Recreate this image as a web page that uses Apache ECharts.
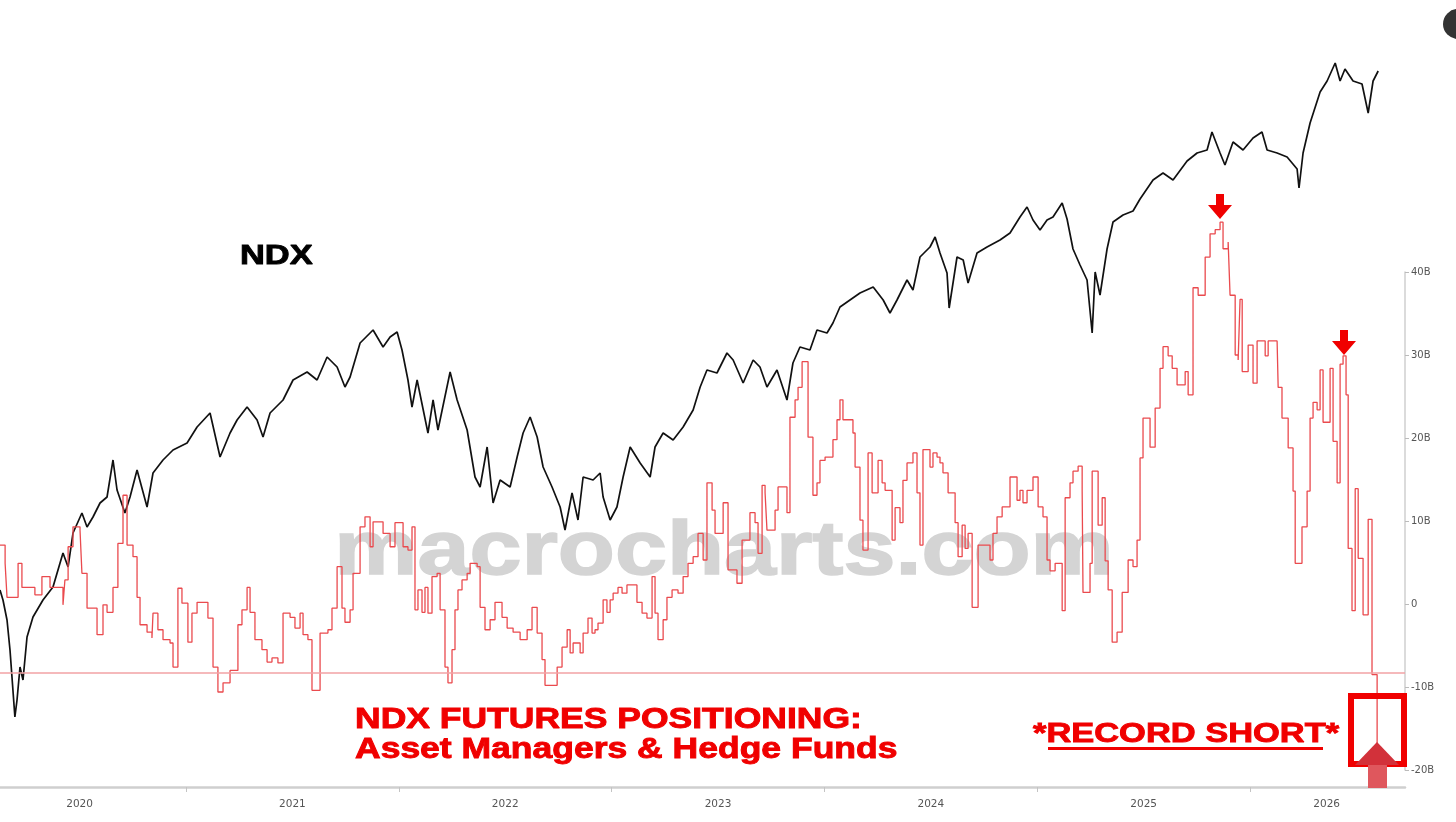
<!DOCTYPE html>
<html><head><meta charset="utf-8">
<script src="https://cdn.jsdelivr.net/npm/echarts@6/dist/echarts.min.js"></script>
<style>html,body{margin:0;padding:0;background:#fff}#c{width:1456px;height:822px}</style>
</head><body><div id="c"></div>
<script>
// ---- axis ticks / labels ----
const yearTicks = [2021, 2022, 2023, 2024, 2025, 2026];
const yearLabelPos = [2020.5, 2021.5, 2022.5, 2023.5, 2024.5, 2025.5, 2026.36];
const posTicks = [-20, -10, 0, 10, 20, 30, 40];
const recordShortLevel = -8.3;

// ---- NDX (black line, hidden left axis) ----
const ndxDates = [2020.126,2020.140,2020.159,2020.173,2020.196,2020.206,2020.220,2020.234,2020.253,2020.281,2020.328,2020.375,2020.422,2020.446,2020.469,2020.511,2020.535,2020.563,2020.596,2020.629,2020.657,2020.676,2020.713,2020.737,2020.770,2020.817,2020.845,2020.892,2020.939,2021.005,2021.052,2021.113,2021.160,2021.207,2021.240,2021.287,2021.334,2021.362,2021.395,2021.456,2021.503,2021.569,2021.616,2021.663,2021.710,2021.747,2021.771,2021.818,2021.879,2021.926,2021.959,2021.992,2022.015,2022.043,2022.062,2022.086,2022.137,2022.161,2022.184,2022.241,2022.274,2022.321,2022.358,2022.382,2022.415,2022.443,2022.476,2022.523,2022.556,2022.584,2022.617,2022.650,2022.678,2022.720,2022.758,2022.781,2022.814,2022.842,2022.866,2022.913,2022.946,2022.960,2022.993,2023.025,2023.054,2023.087,2023.134,2023.181,2023.204,2023.242,2023.289,2023.336,2023.383,2023.416,2023.448,2023.495,2023.542,2023.571,2023.618,2023.665,2023.697,2023.730,2023.777,2023.824,2023.852,2023.885,2023.932,2023.965,2024.012,2024.040,2024.073,2024.120,2024.167,2024.229,2024.276,2024.308,2024.341,2024.388,2024.416,2024.449,2024.496,2024.520,2024.543,2024.576,2024.586,2024.623,2024.652,2024.675,2024.717,2024.764,2024.825,2024.872,2024.919,2024.952,2024.980,2025.013,2025.046,2025.074,2025.117,2025.140,2025.168,2025.201,2025.234,2025.258,2025.272,2025.295,2025.328,2025.356,2025.403,2025.450,2025.483,2025.544,2025.591,2025.638,2025.704,2025.751,2025.798,2025.821,2025.859,2025.882,2025.920,2025.967,2026.014,2026.056,2026.080,2026.127,2026.174,2026.221,2026.230,2026.249,2026.282,2026.329,2026.362,2026.400,2026.423,2026.446,2026.484,2026.526,2026.555,2026.578,2026.602];
const ndxValues = [10712,10422,9842,8972,7029,7522,8479,8102,9349,9929,10422,10799,11785,11379,12365,12945,12539,12829,13235,13409,14482,13612,12945,13409,14192,13119,14105,14482,14772,14975,15439,15845,14569,15265,15642,16019,15642,15149,15845,16222,16802,17034,16802,17469,17179,16599,16889,17875,18252,17759,18049,18194,17672,16802,16019,16802,15265,16222,15352,17034,16222,15352,13989,13699,14859,13235,13902,13699,14569,15265,15729,15149,14279,13699,13119,12452,13525,12742,13989,13902,14105,13409,12742,13119,13989,14859,14395,13989,14859,15265,15062,15439,15932,16599,17092,17005,17585,17382,16715,17382,17179,16599,17092,16222,17295,17759,17672,18252,18165,18455,18919,19122,19325,19499,19122,18745,19122,19702,19412,20369,20659,20949,20485,19905,18890,20369,20282,19615,20485,20659,20862,21065,21529,21819,21442,21152,21442,21529,21935,21471,20601,20137,19702,18165,19934,19267,20601,21384,21587,21703,22051,22602,22805,22602,23153,23385,23472,23994,23385,23037,23704,23472,23820,23994,23472,23385,23269,22921,22370,23385,24255,25154,25473,25995,25473,25821,25473,25386,24545,25473,25763];

// ---- Futures positioning, $B (red step line, right axis) ----
const posDates = [2020.126,2020.150,2020.159,2020.211,2020.229,2020.290,2020.323,2020.361,2020.422,2020.431,2020.446,2020.469,2020.502,2020.511,2020.535,2020.582,2020.610,2020.629,2020.657,2020.680,2020.704,2020.723,2020.751,2020.770,2020.784,2020.817,2020.840,2020.845,2020.868,2020.892,2020.925,2020.939,2020.962,2020.981,2021.009,2021.028,2021.052,2021.103,2021.127,2021.150,2021.174,2021.207,2021.244,2021.263,2021.287,2021.301,2021.324,2021.357,2021.381,2021.404,2021.432,2021.456,2021.489,2021.512,2021.536,2021.550,2021.573,2021.592,2021.630,2021.667,2021.686,2021.710,2021.733,2021.747,2021.771,2021.785,2021.818,2021.841,2021.865,2021.879,2021.926,2021.959,2021.982,2022.020,2022.043,2022.062,2022.076,2022.090,2022.109,2022.123,2022.137,2022.156,2022.180,2022.194,2022.217,2022.231,2022.250,2022.264,2022.278,2022.297,2022.321,2022.335,2022.368,2022.382,2022.405,2022.429,2022.452,2022.485,2022.509,2022.537,2022.570,2022.603,2022.626,2022.650,2022.673,2022.687,2022.744,2022.767,2022.791,2022.805,2022.819,2022.852,2022.866,2022.889,2022.908,2022.922,2022.936,2022.960,2022.978,2022.993,2023.007,2023.030,2023.049,2023.072,2023.119,2023.143,2023.166,2023.190,2023.204,2023.218,2023.242,2023.260,2023.284,2023.312,2023.336,2023.359,2023.383,2023.406,2023.430,2023.448,2023.472,2023.486,2023.524,2023.547,2023.589,2023.613,2023.650,2023.674,2023.688,2023.707,2023.721,2023.730,2023.768,2023.782,2023.824,2023.838,2023.862,2023.876,2023.895,2023.923,2023.946,2023.965,2023.979,2024.003,2024.040,2024.059,2024.073,2024.087,2024.134,2024.144,2024.167,2024.181,2024.205,2024.224,2024.252,2024.271,2024.285,2024.318,2024.332,2024.355,2024.369,2024.388,2024.416,2024.435,2024.449,2024.463,2024.496,2024.510,2024.529,2024.543,2024.557,2024.581,2024.614,2024.628,2024.647,2024.661,2024.675,2024.694,2024.722,2024.778,2024.792,2024.811,2024.835,2024.872,2024.905,2024.919,2024.933,2024.952,2024.980,2025.004,2025.027,2025.046,2025.060,2025.084,2025.117,2025.131,2025.154,2025.168,2025.192,2025.211,2025.215,2025.248,2025.258,2025.286,2025.305,2025.319,2025.333,2025.352,2025.375,2025.399,2025.427,2025.450,2025.469,2025.483,2025.497,2025.530,2025.554,2025.577,2025.591,2025.615,2025.634,2025.657,2025.695,2025.709,2025.732,2025.756,2025.789,2025.812,2025.836,2025.859,2025.873,2025.897,2025.906,2025.930,2025.944,2025.953,2025.963,2025.991,2026.014,2026.033,2026.071,2026.085,2026.127,2026.132,2026.150,2026.179,2026.202,2026.212,2026.244,2026.268,2026.282,2026.296,2026.315,2026.329,2026.343,2026.376,2026.390,2026.409,2026.423,2026.437,2026.451,2026.461,2026.479,2026.494,2026.508,2026.531,2026.555,2026.573,2026.597];
const posValues = [7.1,4.9,0.8,4.9,2.0,1.1,3.3,2.0,-0.1,2.9,6.9,9.3,8.9,3.7,-0.5,-3.7,-0.1,-1.0,2.0,7.3,13.1,7.1,5.7,0.8,-2.5,-3.4,-4.1,-1.1,-3.1,-4.3,-4.7,-7.6,1.9,0.1,-4.6,-1.1,0.2,-1.7,-7.6,-10.6,-9.5,-8.0,-2.5,-0.7,2.0,-1.0,-4.3,-5.5,-7.0,-6.5,-7.1,-1.1,-1.6,-2.9,-1.1,-3.7,-4.3,-10.4,-3.5,-3.1,-0.5,4.5,-0.5,-2.2,-0.7,3.7,9.3,10.5,6.9,9.9,8.5,6.9,9.8,6.9,6.5,9.3,-0.7,1.7,-1.0,2.0,-1.1,3.3,3.7,-0.7,-7.6,-9.5,-5.5,-0.7,1.7,2.9,3.7,4.9,4.5,-0.4,-3.1,-1.9,0.2,-1.6,-2.9,-3.4,-4.3,-3.1,-0.4,-3.5,-6.7,-9.8,-7.6,-5.2,-3.1,-5.9,-4.7,-5.9,-3.5,-1.7,-3.5,-3.1,-2.3,0.5,-1.0,0.5,1.3,2.0,1.3,2.3,0.2,-1.1,-1.7,3.3,-1.1,-4.3,-1.9,0.8,1.7,1.3,3.3,4.9,5.7,8.5,5.3,14.6,11.3,8.5,12.2,4.1,2.5,7.7,11.0,9.8,6.1,14.3,13.4,8.9,11.3,14.1,11.0,22.5,24.6,26.1,29.2,20.1,13.1,14.6,17.3,17.7,19.8,22.2,24.6,22.2,20.6,16.5,10.1,6.5,18.2,13.4,17.3,14.6,13.7,7.7,11.6,9.8,14.9,17.0,18.2,13.4,7.1,18.6,16.5,18.2,17.7,17.0,15.8,13.4,9.8,5.7,9.5,6.7,8.5,-0.4,7.1,5.3,8.5,10.5,11.7,15.3,12.5,13.7,12.2,13.7,15.3,11.7,10.5,5.3,4.0,4.9,-0.8,12.8,14.6,16.0,16.6,13.6,1.4,4.9,16.0,9.5,12.8,5.2,1.7,-4.6,-3.4,1.4,5.3,4.5,7.7,17.6,22.4,18.9,23.6,28.4,31.0,29.9,28.4,26.4,28.0,25.2,38.1,37.2,41.8,44.6,45.1,46.0,42.8,43.6,37.2,30.0,29.4,36.7,28.0,31.2,26.6,31.7,29.9,31.7,31.9,26.1,22.4,18.8,13.6,4.9,9.3,13.6,22.4,24.3,23.4,28.2,21.9,28.4,19.6,14.6,28.9,29.9,25.2,6.7,-0.8,13.9,5.5,-1.3,10.2,-8.5,-17.5];

const ndxData = ndxDates.map((d, i) => [d, ndxValues[i]]);
const posData = posDates.map((d, i) => [d, posValues[i]]);

const RED = '#f00000';
const FONT = '"Liberation Sans", Arial, sans-serif';

function downArrow(tx, ty) {
  return {
    type: 'polygon', z: 100,
    shape: { points: [[tx-4,ty-25],[tx+4,ty-25],[tx+4,ty-14],[tx+12,ty-14],[tx,ty],[tx-12,ty-14],[tx-4,ty-14]] },
    style: { fill: RED }
  };
}

const chart = echarts.init(document.getElementById('c'), null, { renderer: 'canvas' });
chart.setOption({
  animation: false,
  backgroundColor: '#ffffff',
  grid: { left: 0, right: 51, top: 272, bottom: 52, containLabel: false },
  xAxis: {
    type: 'value', min: 2020.126, max: 2026.728,
    offset: 17,
    axisLine: { show: true, onZero: false, lineStyle: { color: '#cfcfcf', width: 2.5 } },
    axisTick: { show: true, customValues: yearTicks, length: 5, lineStyle: { color: '#c4c4c4', width: 1 } },
    axisLabel: {
      customValues: yearLabelPos, margin: 12,
      formatter: v => String(Math.floor(v)),
      color: '#555', fontSize: 10.5, fontFamily: '"DejaVu Sans", sans-serif'
    },
    splitLine: { show: false }
  },
  yAxis: [
    { type: 'value', show: false, min: 5492, max: 19934, position: 'left' },
    {
      type: 'value', position: 'right', min: -20, max: 40, interval: 10,
      axisLine: { show: true, lineStyle: { color: '#cfcfcf', width: 1.5 } },
      axisTick: { show: true, length: 4, lineStyle: { color: '#bbb' } },
      axisLabel: {
        margin: 6, color: '#555', fontSize: 10, fontFamily: '"DejaVu Sans", sans-serif',
        formatter: v => v === 0 ? '0' : v + 'B'
      },
      splitLine: { show: false }
    }
  ],
  series: [
    {
      name: 'NDX', type: 'line', yAxisIndex: 0, data: ndxData,
      showSymbol: false, clip: false, z: 3,
      lineStyle: { color: '#111', width: 1.7 }
    },
    {
      name: 'Positioning', type: 'line', yAxisIndex: 1, data: posData,
      step: 'end', showSymbol: false, clip: false, z: 4,
      lineStyle: { color: '#ea4a4e', width: 1.3 },
      markLine: {
        silent: true, symbol: ['none', 'none'], label: { show: false },
        lineStyle: { color: '#f2a2a4', width: 1.5, type: 'solid' },
        data: [{ yAxis: recordShortLevel }]
      }
    }
  ],
  graphic: [
    { type: 'text', z: -1, x: 724, y: 553, scaleX: 1.23,
      style: { text: 'macrocharts.com', fill: '#d4d4d4', stroke: '#d4d4d4', lineWidth: 1.5, fontSize: 76, fontWeight: 'bold', fontFamily: FONT, align: 'center', verticalAlign: 'middle' } },
    { type: 'text', z: 100, x: 240, y: 256, scaleX: 1.23,
      style: { text: 'NDX', fill: '#000', stroke: '#000', lineWidth: 0.9, fontSize: 28, fontWeight: 'bold', fontFamily: FONT, align: 'left', verticalAlign: 'middle' } },
    { type: 'text', z: 100, x: 355, y: 720, scaleX: 1.224,
      style: { text: 'NDX FUTURES POSITIONING:', fill: RED, stroke: RED, lineWidth: 0.9, fontSize: 29, fontWeight: 'bold', fontFamily: FONT, align: 'left', verticalAlign: 'middle' } },
    { type: 'text', z: 100, x: 355, y: 750, scaleX: 1.224,
      style: { text: 'Asset Managers & Hedge Funds', fill: RED, stroke: RED, lineWidth: 0.9, fontSize: 29, fontWeight: 'bold', fontFamily: FONT, align: 'left', verticalAlign: 'middle' } },
    { type: 'text', z: 100, x: 1033, y: 734, scaleX: 1.23,
      style: { text: '*RECORD SHORT*', fill: RED, stroke: RED, lineWidth: 0.9, fontSize: 28, fontWeight: 'bold', fontFamily: FONT, align: 'left', verticalAlign: 'middle' } },
    { type: 'rect', z: 100, shape: { x: 1048, y: 747, width: 275, height: 3 }, style: { fill: RED } },
    { type: 'rect', z: 100, shape: { x: 1351, y: 696, width: 53, height: 68 }, style: { fill: 'none', stroke: RED, lineWidth: 6 } },
    { type: 'polygon', z: 101, shape: { points: [[1377,742],[1399,765],[1355,765]] }, style: { fill: '#d2313a' } },
    { type: 'rect', z: 101, shape: { x: 1368, y: 765, width: 19, height: 23 }, style: { fill: '#df575d' } },
    downArrow(1220, 219),
    downArrow(1344, 355),
    { type: 'circle', z: 100, shape: { cx: 1458, cy: 24, r: 15 }, style: { fill: '#333' } }
  ]
});
</script>
</body></html>
